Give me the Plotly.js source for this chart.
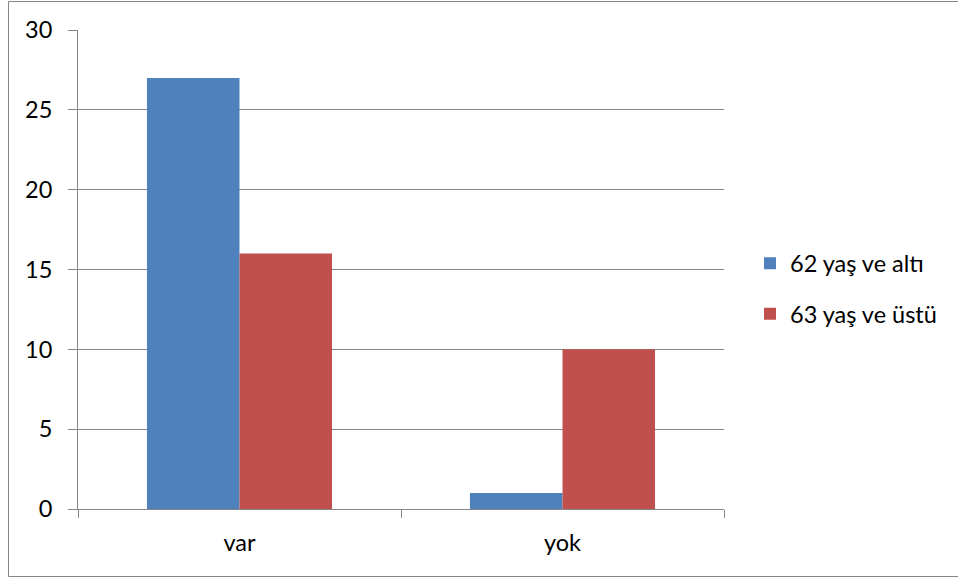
<!DOCTYPE html>
<html>
<head>
<meta charset="utf-8">
<script src="https://cdn.plot.ly/plotly-3.0.1.min.js"></script>
<style>html,body{margin:0;padding:0;background:#fff;}#chart{width:958px;height:578px;}</style>
</head>
<body>
<div id="chart"></div>
<script>
var categories = ["var", "yok"];
var seriesNames = ["62 yaş ve altı", "63 yaş ve üstü"];
var series1 = [27, 1];
var series2 = [16, 10];
var yTicks = [0, 5, 10, 15, 20, 25, 30];

var W = 958, H = 578, L = 78, R = 234, T = 30, B = 69;
var pw = W - L - R, ph = H - T - B;
function px(x){ return (x - L) / pw; }
function py(y){ return (H - B - y) / ph; }

var font = {family: "Lato, 'Open Sans', sans-serif", size: 23.5, color: "#000"};

var data = [
  {type: "bar", x: categories, y: series1, name: seriesNames[0], marker: {color: "#4F81BD"}, legendgroup: "a"},
  {type: "bar", x: categories, y: series2, name: seriesNames[1], marker: {color: "#C0504D"}, legendgroup: "b"}
];

var layout = {
  width: W, height: H,
  margin: {l: L, r: R, t: T, b: B, pad: 0},
  paper_bgcolor: "#fff", plot_bgcolor: "#fff",
  font: font,
  barmode: "group", bargap: 0.427, bargroupgap: 0,
  showlegend: true,
  legend: {x: px(750), xanchor: "left", y: py(289), yanchor: "middle", font: font, tracegroupgap: 17, bgcolor: "rgba(0,0,0,0)"},
  xaxis: {
    type: "category", showgrid: false, showline: true, linecolor: "#868686", linewidth: 1,
    ticks: "outside", tickson: "boundaries", ticklen: 8, tickcolor: "#868686", tickwidth: 1,
    tickfont: font, ticklabelstandoff: 13, zeroline: false, fixedrange: true
  },
  yaxis: {
    range: [0, 30], tickvals: yTicks, showgrid: true, gridcolor: "#868686", gridwidth: 1,
    showline: true, linecolor: "#868686", linewidth: 1,
    ticks: "outside", ticklen: 9, tickcolor: "#868686", tickwidth: 1,
    tickfont: font, ticklabelstandoff: 11, zeroline: false, fixedrange: true
  },
  shapes: [
    {type: "rect", xref: "paper", yref: "paper", x0: px(8.5), x1: px(962), y0: py(576.5), y1: py(1.5), line: {color: "#868686", width: 1}, fillcolor: "rgba(0,0,0,0)", layer: "below"}
  ]
};

Plotly.newPlot("chart", data, layout, {displayModeBar: false, staticPlot: true});
</script>
</body>
</html>
